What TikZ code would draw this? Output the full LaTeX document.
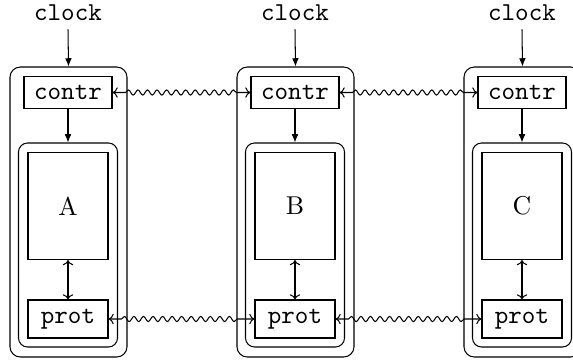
\documentclass[tikz,border=0pt]{standalone}
\usetikzlibrary{arrows.meta,decorations.pathmorphing}
\newcommand\pxu{0.3876pt}
\tikzset{
  outerbox/.style={draw,rounded corners=4pt,minimum width=117*\pxu,minimum height=290*\pxu,inner sep=0pt},
  innerbox/.style={draw,rounded corners=3.5pt,minimum width=99*\pxu,minimum height=204*\pxu,inner sep=0pt},
  ctrbox/.style={draw,font=\ttfamily,minimum width=88*\pxu,minimum height=32*\pxu,inner sep=0pt},
  procbox/.style={draw,minimum width=80*\pxu,minimum height=107*\pxu,inner sep=0pt},
  protbox/.style={draw,font=\ttfamily,minimum width=80*\pxu,minimum height=38*\pxu,inner sep=0pt},
  clk/.style={font=\ttfamily,anchor=base},
  tick/.style={-{Latex[length=3.2pt,width=2.6pt]}},
  link/.style={{To[length=2pt,width=4pt]}-{To[length=2pt,width=4pt]}},
  wave/.style={{To[length=2pt,width=4pt]}-{To[length=2pt,width=4pt]},
    decorate,decoration={snake,segment length=3.7pt,amplitude=1pt,pre length=5pt,post length=5pt}}
}
\begin{document}
\begin{tikzpicture}[x=\pxu,y=-\pxu]
\useasboundingbox (0,0) rectangle (573,360);
\foreach \n/\x in {A/68,B/295,C/522}{
  \node[clk] (clock\n) at (\x,20) {clock};
  \node[outerbox] (outer\n) at (\x+0.5,212) {};
  \node[ctrbox] (contr\n) at (\x,92.5) {contr};
  \node[innerbox] (inner\n) at (\x,245) {};
  \node[procbox] (proc\n) at (\x,206) {\n};
  \node[protbox] (prot\n) at (\x,319) {prot};
  \draw[tick] (clock\n.south) -- (outer\n.north);
  \draw[tick] (contr\n.south) -- (inner\n.north);
  \draw[link] (proc\n.south) -- (prot\n.north);
}
\draw[wave] (contrA.east) -- (contrB.west);
\draw[wave] (contrB.east) -- (contrC.west);
\draw[wave] (protA.east) -- (protB.west);
\draw[wave] (protB.east) -- (protC.west);
\end{tikzpicture}
\end{document}
